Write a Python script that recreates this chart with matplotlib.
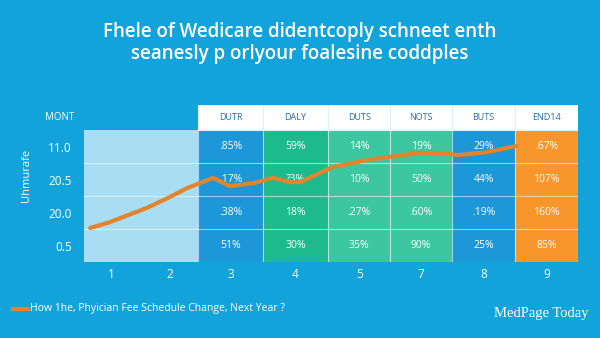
import matplotlib

matplotlib.use("Agg")
import matplotlib.pyplot as plt
from matplotlib.patches import Rectangle

# ── data ────────────────────────────────────────────────────────────────
title = "Fhele of Wedicare didentcoply schneet enth\nseanesly p orlyour foalesine coddples"
x_labels = ["1", "2", "3", "4", "5", "7", "8", "9"]
y_labels = ["0.5", "20.0", "20.5", "11.0"]
headers = ["DUTR", "DALY", "DUTS", "NOTS", "BUTS", "END14"]
# cell texts per column, top row first
cells = [
    [".85%", ".17%", ".38%", "51%"],
    ["59%", "?3%", "18%", "30%"],
    ["14%", "10%", ".27%", "35%"],
    ["19%", "50%", ".60%", "90%"],
    ["29%", "44%", ".19%", "25%"],
    [".67%", "107%", "160%", "85%"],
]
line_x = [0.10, 0.42, 1.02, 1.39, 1.67, 2.09, 2.17, 2.36, 2.74, 3.06, 3.34, 3.50,
          4.03, 4.58, 5.39, 5.81, 6.04, 6.53, 7.01]
line_y = [1.03, 1.21, 1.64, 1.97, 2.24, 2.55, 2.48, 2.30, 2.39, 2.55, 2.42, 2.42,
          2.88, 3.09, 3.30, 3.30, 3.24, 3.33, 3.52]
legend_text = "How 1he, Phyician Fee Schedule Change, Next Year ?"

# ── layout / style ──────────────────────────────────────────────────────
BG = "#12A3DB"
col_edges = [1.85, 2.9, 3.95, 4.96, 5.96, 6.98, 8.0]
col_colors = ["#1C97D8", "#1DBB8B", "#3DC7A0", "#3DC7A0", "#1C97D8", "#F7962B"]
light_edge = [0.0, 1.85]
n_rows = 4
header_h = 0.76
tick_pos = [0.44, 1.39] + [(a + b) / 2 for a, b in zip(col_edges[:-1], col_edges[1:])]

plt.rcParams["font.family"] = ["Open Sans", "DejaVu Sans"]

fig = plt.figure(figsize=(6, 3.38), dpi=100, facecolor=BG)
ax = fig.add_axes([84 / 600, (338 - 262) / 338, 494 / 600, (262 - 105) / 338])
ax.set_facecolor(BG)
ax.set_xlim(0, 8)
ax.set_ylim(0, n_rows + header_h)
for s in ax.spines.values():
    s.set_visible(False)

# light left block
ax.add_patch(Rectangle((light_edge[0], 0), light_edge[1] - light_edge[0], n_rows,
                       facecolor="#A8DDF3", edgecolor="none", zorder=1))

# coloured columns + header
for i, (x0, x1) in enumerate(zip(col_edges[:-1], col_edges[1:])):
    ax.add_patch(Rectangle((x0, 0), x1 - x0, n_rows, facecolor=col_colors[i],
                           edgecolor="none", zorder=1))
    ax.add_patch(Rectangle((x0, n_rows), x1 - x0, header_h, facecolor="white",
                           edgecolor="#E3EEF3", linewidth=0.8, zorder=2))
    ax.text((x0 + x1) / 2, n_rows + header_h / 2, headers[i], ha="center", va="center",
            fontsize=6.5, color="#2B6E99", zorder=3)
    for r, val in enumerate(cells[i]):
        ax.text((x0 + x1) / 2, n_rows - r - 0.5, val, ha="center", va="center",
                fontsize=7.5, color="white", zorder=3)

# grid lines
for r in range(1, n_rows):
    ax.plot([0, 8], [r, r], color="white", alpha=0.55, linewidth=0.8, zorder=2)
for x in col_edges[:-1]:
    ax.plot([x, x], [0, n_rows], color="white", alpha=0.6, linewidth=0.8, zorder=2)

# trend line
ax.plot(line_x, line_y, color="#E2842C", linewidth=3, solid_capstyle="round",
        solid_joinstyle="round", zorder=5)

ax.set_xticks(tick_pos)
ax.set_xticklabels(x_labels)
ax.set_yticks([r + 0.5 for r in range(n_rows)])
ax.set_yticklabels(y_labels)
ax.tick_params(length=0, colors="white", labelsize=8.5)
ax.tick_params(axis="x", pad=4)
ax.tick_params(axis="y", pad=9)

# texts around the chart
fig.text(0.5, 1 - 43 / 338, title, ha="center", va="center", color="white", fontsize=13.5,
         fontweight="semibold", linespacing=1.2)
fig.text(60 / 600, 1 - 117 / 338, "MONT", ha="center", va="center", color="white",
         fontsize=7)
fig.text(27 / 600, 1 - 175 / 338, "Uhmurafe", ha="center", va="center", color="white",
         fontsize=8, rotation=90)
fig.add_artist(plt.Line2D([13 / 600, 28 / 600], [1 - 309 / 338] * 2, color="#E2842C",
                          linewidth=3))
fig.text(30 / 600, 1 - 309 / 338, legend_text, ha="left", va="center", color="white",
         fontsize=7.5)
fig.text(589 / 600, 1 - 313 / 338, "MedPage Today", ha="right", va="center",
         color="white", fontsize=10.5, family=["Liberation Serif", "DejaVu Serif"])

fig.savefig("out.png", dpi=100, facecolor=BG)
